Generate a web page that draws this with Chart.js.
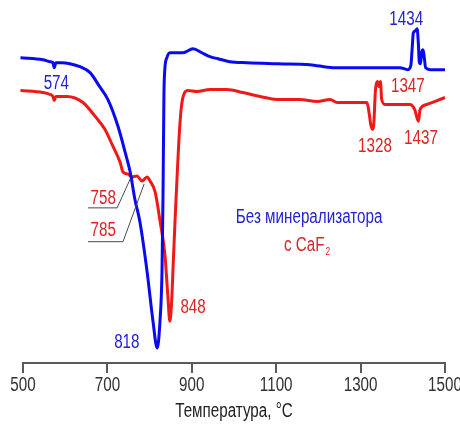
<!DOCTYPE html>
<html>
<head>
<meta charset="utf-8">
<script src="https://cdn.jsdelivr.net/npm/chart.js@4/dist/chart.umd.min.js"></script>
<style>
  html, body { margin: 0; padding: 0; background: #ffffff; }
  #wrap { width: 460px; height: 425px; }
</style>
</head>
<body>
<div id="wrap"><canvas id="dta"></canvas></div>
<script>
// DTA curves, temperature in °C, signal in arbitrary units (exo up)
const tempPlain = [494, 547, 564, 571, 574, 578, 592, 611, 635, 659, 680, 701, 725, 742, 754, 765, 777, 794, 808, 818, 824.6, 829.4, 831.7, 834, 836, 841, 848, 865, 879, 903, 924, 943, 962, 990, 1031, 1102, 1180, 1235, 1315, 1393, 1412, 1419, 1422, 1425, 1430, 1434, 1437, 1439, 1442, 1445, 1448, 1451, 1454, 1465, 1500];
const sigPlain  = [307, 305, 303, 302, 297, 302, 302, 301, 298, 292, 279, 265, 238, 212, 192, 165, 142, 92, 42, 15, 42, 92, 165, 270, 295, 307, 312, 312, 312, 316, 312, 308, 306, 303, 302, 301, 300, 297, 297, 297, 295, 299, 315, 332, 334, 336, 320, 303, 301, 313, 315, 307, 297, 295, 295];

const tempCaF2 = [494, 547, 564, 571, 574, 578, 604, 642, 671, 694, 713, 730, 737, 749, 758, 770, 782, 794, 801, 813, 825, 836.5, 843.6, 848, 852, 856, 861, 866, 871, 876, 881, 891, 912, 943, 983, 1021, 1062, 1102, 1156, 1197, 1228, 1244, 1315, 1320, 1324, 1328, 1331, 1335, 1340, 1344, 1347, 1350, 1358, 1417, 1428, 1437, 1441, 1457, 1500];
const sigCaF2  = [274, 272, 270, 268, 264, 268, 268, 262, 248, 235, 218, 202, 192, 190, 187, 188, 183, 187, 183, 172, 142, 108, 65, 42, 60, 100, 150, 195, 235, 260, 270, 274, 273, 275, 275, 272, 268, 265, 265, 263, 265, 262, 262, 252, 240, 235, 239, 273, 283, 278, 283, 265, 260, 260, 255, 243, 255, 260, 267];

const tempTicks = [500, 700, 900, 1100, 1300, 1500];

const BLUE = '#0a0af0';
const RED = '#ee1a1a';
const BLUE_TXT = '#2323d2';
const RED_TXT = '#dc2424';
const FONT = '"Liberation Sans", Arial, sans-serif';
const SIZE = 20;
const NARROW = 0.76; // horizontal squeeze for a condensed look

// peak labels: [text, temperature, signal, colour]
const peakLabels = [
  ['574', 579, 281, BLUE_TXT],
  ['1434', 1408, 345, BLUE_TXT],
  ['818', 746, 21, BLUE_TXT],
  ['848', 903, 56, RED_TXT],
  ['1347', 1412, 278, RED_TXT],
  ['1328', 1334, 218, RED_TXT],
  ['1437', 1443, 226, RED_TXT],
  ['758', 690, 165, RED_TXT],
  ['785', 690, 133, RED_TXT]
];

// leader lines from the 758 / 785 labels to the curve
const leaders = [
  [[654, 156], [723, 156], [754, 185]],
  [[654, 122], [737, 122], [787, 180]]
];

const toPts = (xs, ys) => xs.map((t, i) => ({ x: t, y: ys[i] }));

// condensed text: every string on this canvas is drawn squeezed around its anchor
const canvas = document.getElementById('dta');
const c2d = canvas.getContext('2d');
const rawFill = c2d.fillText.bind(c2d);
c2d.fillText = function (txt, x, y, maxWidth) {
  this.save();
  this.translate(x, y);
  this.scale(NARROW, 1);
  if (maxWidth === undefined) rawFill(txt, 0, 0); else rawFill(txt, 0, 0, maxWidth / NARROW);
  this.restore();
};

const annotate = {
  id: 'annotate',
  afterDatasetsDraw(chart) {
    const { ctx, scales: { x, y } } = chart;
    ctx.save();
    ctx.strokeStyle = '#4a4a4a';
    ctx.lineWidth = 1;
    leaders.forEach(pts => {
      ctx.beginPath();
      pts.forEach(([t, s], i) => {
        const px = x.getPixelForValue(t), py = y.getPixelForValue(s);
        if (i === 0) ctx.moveTo(px, py); else ctx.lineTo(px, py);
      });
      ctx.stroke();
    });
    ctx.font = SIZE + 'px ' + FONT;
    ctx.textAlign = 'center';
    ctx.textBaseline = 'middle';
    peakLabels.forEach(([txt, t, s, col]) => {
      ctx.fillStyle = col;
      ctx.fillText(txt, x.getPixelForValue(t), y.getPixelForValue(s));
    });
    // series captions
    ctx.fillStyle = BLUE_TXT;
    ctx.fillText('Без минерализатора', x.getPixelForValue(1178), y.getPixelForValue(146));
    const cx = x.getPixelForValue(1172), cy = y.getPixelForValue(118);
    ctx.fillStyle = RED_TXT;
    ctx.textAlign = 'right';
    ctx.fillText('с CaF', cx + 18, cy);
    ctx.font = '11px ' + FONT;
    ctx.textAlign = 'left';
    ctx.fillText('2', cx + 19, cy + 6);
    ctx.restore();
  }
};

new Chart(canvas, {
  type: 'line',
  data: {
    datasets: [
      { data: toPts(tempPlain, sigPlain), borderColor: BLUE, borderWidth: 3, pointRadius: 0, cubicInterpolationMode: 'monotone', clip: false },
      { data: toPts(tempCaF2, sigCaF2), borderColor: RED, borderWidth: 3, pointRadius: 0, cubicInterpolationMode: 'monotone', clip: false }
    ]
  },
  options: {
    responsive: true,
    maintainAspectRatio: false,
    animation: false,
    layout: { padding: { left: 23, right: 15, top: 5, bottom: 2 } },
    plugins: { legend: { display: false }, tooltip: { enabled: false } },
    scales: {
      x: {
        type: 'linear',
        min: 500,
        max: 1500,
        afterBuildTicks: s => { s.ticks = tempTicks.map(v => ({ value: v })); },
        afterFit: s => { s.paddingLeft = 0; s.paddingRight = 0; },
        border: { display: true, color: '#5a5a5a', width: 2 },
        grid: { display: true, drawOnChartArea: false, drawTicks: true, tickLength: 10, color: '#5a5a5a', lineWidth: 2 },
        ticks: { color: '#333333', font: { family: FONT, size: SIZE }, padding: 0, maxRotation: 0, callback: v => String(v) },
        title: { display: true, text: 'Температура, °C', color: '#222222', font: { family: FONT, size: SIZE }, padding: { top: 2, bottom: 0 } }
      },
      y: { display: false, min: 0, max: 360 }
    }
  },
  plugins: [annotate]
});
</script>
</body>
</html>
